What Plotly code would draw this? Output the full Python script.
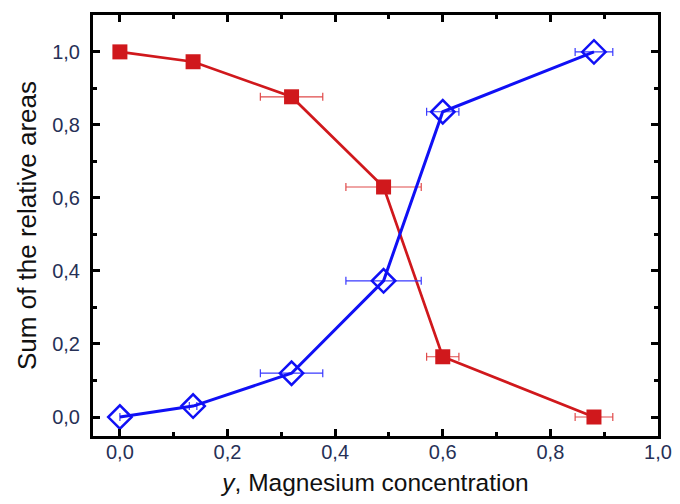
import plotly.graph_objects as go

x_red = [0.0, 0.136, 0.319, 0.49, 0.60, 0.881]
y_red = [1.0, 0.973, 0.877, 0.63, 0.165, 0.0]
xerr_red = [0.0, 0.0, 0.058, 0.07, 0.03, 0.035]

x_blue = [0.0, 0.136, 0.319, 0.49, 0.60, 0.881]
y_blue = [0.0, 0.03, 0.12, 0.373, 0.836, 1.0]
xerr_blue = [0.0, 0.007, 0.058, 0.07, 0.03, 0.035]

x_ticks = [0.0, 0.2, 0.4, 0.6, 0.8, 1.0]
y_ticks = [0.0, 0.2, 0.4, 0.6, 0.8, 1.0]

red = "#d0181c"
blue = "#1010f5"
font_family = "Liberation Sans, Arial, sans-serif"

fig = go.Figure()
fig.add_trace(go.Scatter(
    x=x_red, y=y_red, mode="lines+markers",
    line=dict(color=red, width=2.7),
    marker=dict(symbol="square", size=15, color=red),
    error_x=dict(type="data", array=xerr_red, visible=True, color="#e04a4a", thickness=1.2, width=4),
    showlegend=False, cliponaxis=False,
))
fig.add_trace(go.Scatter(
    x=x_blue, y=y_blue, mode="lines+markers",
    line=dict(color=blue, width=3),
    marker=dict(symbol="diamond-open", size=18, color=blue, line=dict(width=2.5, color=blue)),
    error_x=dict(type="data", array=xerr_blue, visible=True, color="#3a3aff", thickness=1.2, width=4),
    showlegend=False, cliponaxis=False,
))

axis_common = dict(
    showline=True, linewidth=3, linecolor="black", mirror="ticks",
    ticks="inside", ticklen=7, tickwidth=2.5, tickcolor="black",
    showgrid=False, zeroline=False, automargin=False,
    tickfont=dict(family=font_family, size=20, color="#263056"),
    tickformat=".1f", ticklabeloverflow="allow",
)

fig.update_xaxes(
    range=[-0.05, 1.0], tickvals=x_ticks, ticklabelstandoff=-4,
    minor=dict(dtick=0.1, tick0=0, ticks="inside", ticklen=4, tickwidth=2.5, tickcolor="black"),
    title=dict(text="<i>y</i>, Magnesium concentration",
               font=dict(family=font_family, size=24.5, color="#111"),
               standoff=13),
    **axis_common,
)
fig.update_yaxes(
    range=[-0.052, 1.101], tickvals=y_ticks, ticklabelstandoff=6,
    minor=dict(dtick=0.1, tick0=0, ticks="inside", ticklen=4, tickwidth=2.5, tickcolor="black"),
    title=dict(text="Sum of the relative areas",
               font=dict(family=font_family, size=26, color="#111"),
               standoff=9),
    **axis_common,
)

# the page adds an 8px body margin; the figure is sized so everything stays visible
fig.update_layout(
    width=672, height=488,
    margin=dict(l=85, r=22, t=7, b=60),
    paper_bgcolor="white", plot_bgcolor="white",
    separators=", ",
)

fig.write_html("out.html")
